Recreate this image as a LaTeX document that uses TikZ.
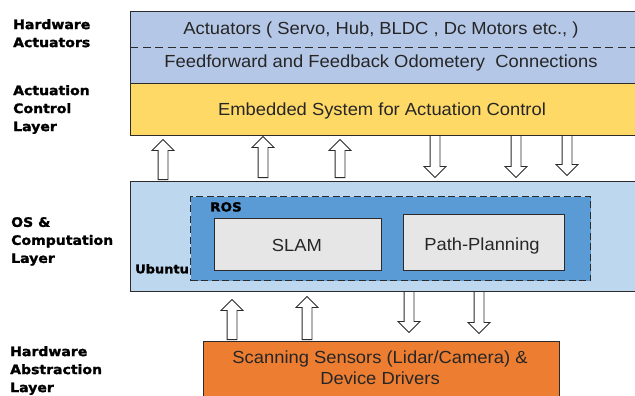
\documentclass[tikz,border=0pt]{standalone}
\usepackage{fontspec}
\setmainfont[FakeStretch=1.05]{Liberation Sans}
\newfontfamily\lblfont[FakeStretch=1.08, BoldFeatures={FakeBold=1.6}]{DejaVu Sans}
\usetikzlibrary{shapes.arrows}
\definecolor{hwblue}{HTML}{B4C7E7}
\definecolor{embyellow}{HTML}{FFD966}
\definecolor{ubublue}{HTML}{BDD7EE}
\definecolor{rosblue}{HTML}{5B9BD5}
\definecolor{modgray}{HTML}{E7E6E6}
\definecolor{sensorange}{HTML}{ED7D31}
\definecolor{txtcol}{HTML}{262626}
\definecolor{edgecol}{HTML}{2B2B2B}
\tikzset{
  box/.style={draw=edgecol, line width=1.2pt, inner sep=0pt, anchor=north west},
  txt/.style={text=txtcol, font=\fontsize{17.5}{20.5}\selectfont, inner sep=0pt},
  lbl/.style={text=black, font=\lblfont\bfseries\fontsize{13}{18}\selectfont, inner sep=0pt, align=left, anchor=north west},
  barrow/.style={single arrow, draw=edgecol, fill=white, line width=0.9pt, inner sep=4.5pt,
    minimum width=0pt, single arrow head extend=6pt, single arrow tip angle=90,
    single arrow head indent=0pt, anchor=tail},
  dashline/.style={draw=edgecol, line width=1.1pt, dash pattern=on 8pt off 4.5pt}
}
\newcommand\blkarrow[5]{\node[barrow, rotate=#5, minimum height=#4pt] (#1) at (#2,#3) {};}
\begin{document}
\begin{tikzpicture}[x=1pt,y=-1pt]
\clip (0,0) rectangle (635,396);
% left labels
\node[lbl] (l1) at (13,19) {Hardware\\Actuators};
\node[lbl] (l2) at (13,85) {Actuation\\Control\\Layer};
\node[lbl] (l3) at (11,217) {OS \&\\Computation\\Layer};
\node[lbl] (l4) at (10,346) {Hardware\\Abstraction\\Layer};
% top hardware box
\node[box, fill=hwblue, minimum width=506pt, minimum height=72pt] (hw) at (130,11) {};
\draw[dashline] (hw.west) -- (hw.east);
\node[txt, anchor=base] (acttxt) at (381,35) {Actuators ( Servo, Hub, BLDC , Dc Motors etc., )};
\node[txt, anchor=base] (fbtxt) at (381,68) {Feedforward and Feedback Odometery~ Connections};
% embedded
\node[box, fill=embyellow, minimum width=506pt, minimum height=52pt] (emb) at (130,83) {};
\node[txt, anchor=base] (embtxt) at (382,115) {Embedded System for Actuation Control};
% ubuntu
\node[box, fill=ubublue, minimum width=506pt, minimum height=110pt] (ubu) at (130,181) {};
\node[box, fill=rosblue, dashed, dash pattern=on 7pt off 3.5pt, minimum width=400pt, minimum height=84pt] (ros) at (190,196) {};
\node[box, fill=modgray, minimum width=167pt, minimum height=52pt] (slam) at (214,218) {};
\node[box, fill=modgray, minimum width=161pt, minimum height=56pt] (path) at (403,214) {};
\node[txt, anchor=base] (slamtxt) at (297,251) {SLAM};
\node[txt, anchor=base] (pathtxt) at (482,250) {Path-Planning};
\node[lbl, font=\lblfont\bfseries\fontsize{12.5}{15}\selectfont] (roslbl) at (210,202) {ROS};
\node[lbl, font=\lblfont\bfseries\fontsize{12}{15}\selectfont] (ubulbl) at (135,264) {Ubuntu};
% sensors
\node[box, fill=sensorange, minimum width=356pt, minimum height=70pt] (sens) at (203,341) {};
\node[txt, anchor=base] (senstxt1) at (380,363.5) {Scanning Sensors (Lidar/Camera) \&};
\node[txt, anchor=base] (senstxt2) at (380,384) {Device Drivers};
% arrows between embedded and ubuntu
\blkarrow{a1}{163}{180}{40}{90}
\blkarrow{a2}{263}{178}{41}{90}
\blkarrow{a3}{340}{178}{38}{90}
\blkarrow{a4}{435}{135}{42}{-90}
\blkarrow{a5}{516}{135}{42}{-90}
\blkarrow{a6}{567}{135}{40}{-90}
% arrows between ubuntu and sensors
\blkarrow{b1}{232}{340}{40}{90}
\blkarrow{b2}{307}{340}{43}{90}
\blkarrow{b3}{409}{291}{41}{-90}
\blkarrow{b4}{479}{291}{42}{-90}
\end{tikzpicture}
\end{document}
